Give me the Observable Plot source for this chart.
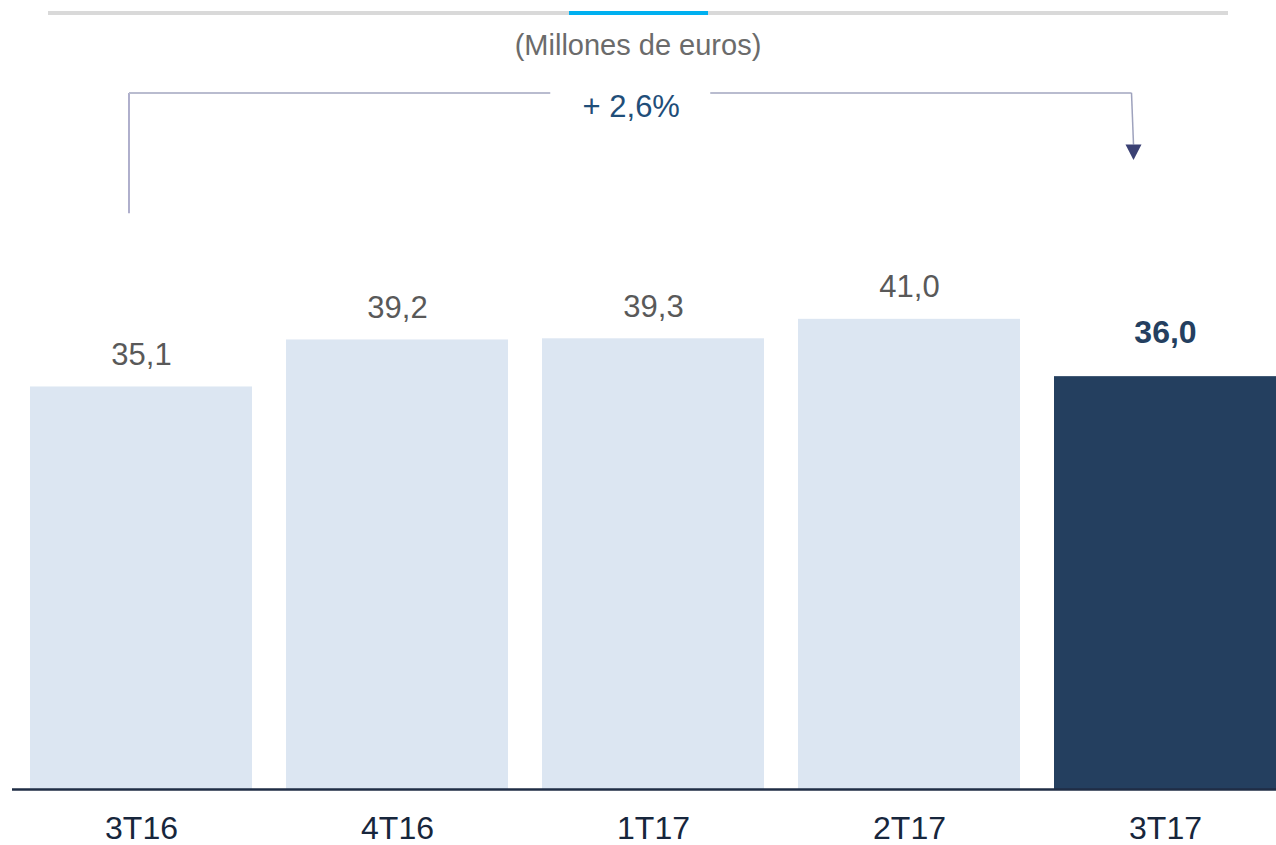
<!DOCTYPE html>
<html>
<head>
<meta charset="utf-8">
<script src="https://cdn.jsdelivr.net/npm/d3@7"></script>
<script src="https://cdn.jsdelivr.net/npm/@observablehq/plot@0.6"></script>
<style>
  html, body { margin: 0; padding: 0; background: #fff; }
  #wrap { position: relative; width: 1276px; height: 845px; font-family: "Liberation Sans", Arial, sans-serif; }
  .topline { position: absolute; top: 11px; height: 4px; }
  #subtitle { position: absolute; left: 0; width: 1276px; top: 30px; text-align: center; font-size: 29px; line-height: 30px; color: #6b6b6b; }
  #chart { position: absolute; left: 0; top: 0; }
</style>
</head>
<body>
<div id="wrap">
  <div id="chart"></div>
  <div class="topline" style="left:48px;width:1180px;background:#d9d9d9"></div>
  <div class="topline" style="left:569px;width:139px;background:#00b0f0"></div>
  <div id="subtitle"></div>
</div>
<script>
const categories = ["3T16", "4T16", "1T17", "2T17", "3T17"];
const values = [35.1, 39.2, 39.3, 41.0, 36.0];
const highlight = "3T17";
const subtitleText = "(Millones de euros)";
const changeLabel = "+ 2,6%";
// bracket annotation levels (in data units)
const bracketTop = 60.7;
const bracketLeftBottom = 50.2;
const arrowTop = 56.2;
const arrowTip = 54.85;
const changeLabelY = 58.6;

const data = categories.map((c, i) => ({cat: c, value: values[i]}));
const fmt = d => d.value.toFixed(1).replace(".", ",");

document.getElementById("subtitle").textContent = subtitleText;

const bracket = (index, scales, vals, dims, context) => {
  const {x, y} = scales;
  const c = k => x(k) + x.bandwidth() / 2;
  const lx = c(categories[0]) - 12;
  const rx = c(categories[categories.length - 1]) - 33.5;
  const mid = (lx + rx) / 2;
  const gap = 80;
  const ty = y(bracketTop);
  const g = d3.create("svg:g");
  g.append("line").attr("x1", lx).attr("x2", lx).attr("y1", ty).attr("y2", y(bracketLeftBottom))
    .attr("stroke", "#7b7bab").attr("stroke-width", 1.2);
  g.append("line").attr("x1", lx).attr("x2", mid - gap).attr("y1", ty).attr("y2", ty)
    .attr("stroke", "#b9bccf").attr("stroke-width", 2);
  g.append("line").attr("x1", mid + gap).attr("x2", rx).attr("y1", ty).attr("y2", ty)
    .attr("stroke", "#b9bccf").attr("stroke-width", 2);
  g.append("line").attr("x1", rx).attr("x2", rx + 2).attr("y1", ty).attr("y2", y(arrowTop))
    .attr("stroke", "#9ea2bd").attr("stroke-width", 1.5);
  const at = y(arrowTop), tip = y(arrowTip);
  g.append("path").attr("d", `M${rx - 6},${at}L${rx + 10},${at}L${rx + 2},${tip}Z`).attr("fill", "#3b4174");
  g.append("text").attr("x", mid + 1).attr("y", y(changeLabelY)).attr("text-anchor", "middle")
    .attr("font-size", 31).attr("fill", "#1f4e79").text(changeLabel);
  return g.node();
};

const chart = Plot.plot({
  width: 1276,
  height: 845,
  marginTop: 0,
  marginBottom: 56,
  marginLeft: 0,
  marginRight: 0,
  style: {fontFamily: "'Liberation Sans', Arial, sans-serif", background: "transparent", overflow: "visible"},
  x: {domain: categories, range: [29, 1278], paddingInner: 0.132, paddingOuter: 0, axis: null},
  y: {domain: [0, 68.8], axis: null},
  color: {type: "identity"},
  marks: [
    Plot.barY(data, {x: "cat", y: "value", fill: d => d.cat === highlight ? "#243f5f" : "#dce6f2"}),
    Plot.ruleY([0], {stroke: "#1f2d45", strokeWidth: 2.5, insetLeft: 12}),
    Plot.axisX({tickSize: 0, tickPadding: 27, fontSize: 32, color: "#17263c", label: null}),
    Plot.text(data.filter(d => d.cat !== highlight), {x: "cat", y: "value", text: fmt, dy: -32, fontSize: 31, fill: "#595959"}),
    Plot.text(data.filter(d => d.cat === highlight), {x: "cat", y: "value", text: fmt, dy: -44, fontSize: 32, fontWeight: "bold", fill: "#243f60"}),
    bracket
  ]
});
document.getElementById("chart").appendChild(chart);
</script>
</body>
</html>
